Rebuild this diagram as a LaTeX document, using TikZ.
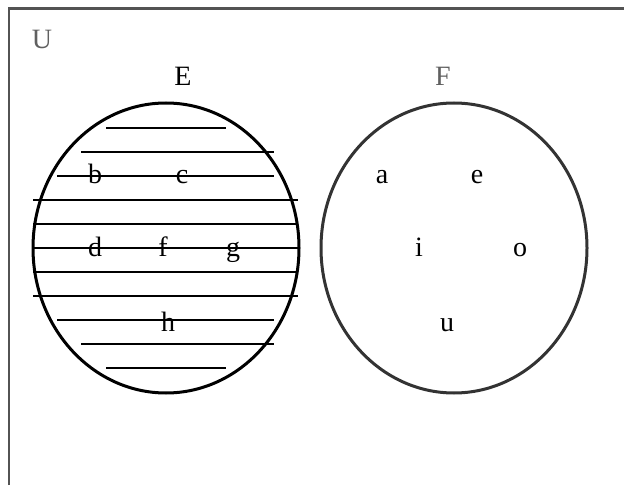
\documentclass[tikz,border=0pt]{standalone}
\usepackage{fontspec}
\setmainfont{Liberation Serif}
\usepackage{tikz}

\begin{document}
\begin{tikzpicture}[x=1pt, y=1pt, every node/.style={font=\fontsize{28}{34}\selectfont, inner sep=0pt, anchor=base}, lbl/.style={text=black}, title/.style={text=gray!75!black}, set/.style={line width=3pt}, hatch/.style={line width=1.8pt}]
	\useasboundingbox (0,0) rectangle (624,485);
	% universe frame
	\draw[gray!65!black, line width=2.2pt] (9,0) -- (9,476.5) -- (624,476.5);
	\node[title] (U) at (42,436) {U};
	% the two sets
	\draw[set, black] (166,237) ellipse [x radius=133, y radius=145];
	\draw[set, black!80] (454,237) ellipse [x radius=133, y radius=145];
	\node[lbl] (Elab) at (183,399) {E};
	\node[title] (Flab) at (443,399) {F};
	% shading of E
	\foreach \yy/\xa/\xb in {357/106/226, 333/81/274, 309/57/274, 285/33/298, 261/33/298, 237/34/298, 213/33/298, 189/33/298, 165/57/274, 141/81/274, 117/106/226}
		\draw[hatch] (\xa,\yy) -- (\xb,\yy);
	% elements of E
	\node[lbl] (b) at (95,301) {b};
	\node[lbl] (c) at (182,301) {c};
	\node[lbl] (d) at (95,228) {d};
	\node[lbl] (f) at (163,228) {f};
	\node[lbl] (g) at (233,228) {g};
	\node[lbl] (h) at (168,153) {h};
	% elements of F
	\node[lbl] (a) at (382,301) {a};
	\node[lbl] (e) at (477,301) {e};
	\node[lbl] (i) at (419,228) {i};
	\node[lbl] (o) at (520,228) {o};
	\node[lbl] (u) at (447,153) {u};
\end{tikzpicture}
\end{document}
